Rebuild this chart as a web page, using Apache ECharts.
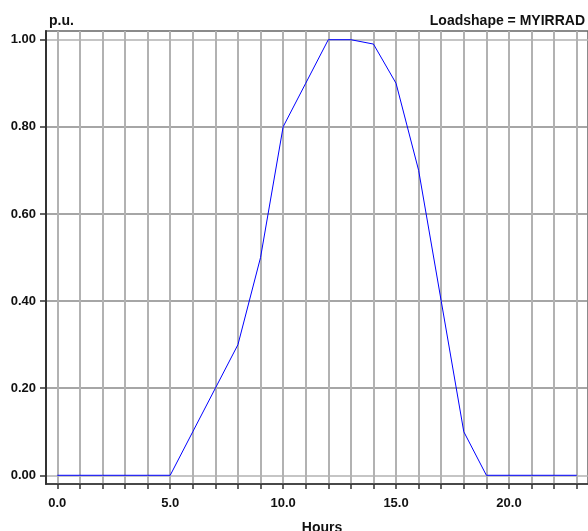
<!DOCTYPE html>
<html><head><meta charset="utf-8">
<script src="https://cdn.jsdelivr.net/npm/echarts@6/dist/echarts.min.js"></script>
<style>html,body{margin:0;padding:0;background:#fff}#c{width:588px;height:531px}</style>
</head><body><div id="c"></div>
<script>
var hours = [0,1,2,3,4,5,6,7,8,9,10,11,12,13,14,15,16,17,18,19,20,21,22,23];
var puValues = [0,0,0,0,0,0,0.1,0.2,0.3,0.5,0.8,0.9,1.0,1.0,0.99,0.9,0.7,0.4,0.1,0,0,0,0,0];
var xLabelValues = [0,5,10,15,20];
var yTickValues = [0,0.2,0.4,0.6,0.8,1.0];
var titleLeft = 'p.u.';
var titleRight = 'Loadshape = MYIRRAD';
var xName = 'Hours';

var chart = echarts.init(document.getElementById('c'));
var font = 'Liberation Sans, Arial, sans-serif';
chart.setOption({
  animation: false,
  textStyle: {fontFamily: font},
  title: [
    {text: titleLeft, left: 44, top: 9, textStyle: {fontSize: 14, fontWeight: 'bold', color: '#111', fontFamily: font}},
    {text: titleRight, right: -2, top: 9, textStyle: {fontSize: 14, fontWeight: 'bold', color: '#111', fontFamily: font}},
    {text: xName, left: 317, top: 516, textAlign: 'center', textStyle: {fontSize: 14, fontWeight: 'bold', color: '#111', fontFamily: font}}
  ],
  grid: {left: 46, right: -1, top: 31, bottom: 47, show: true, borderColor: '#666', borderWidth: 1.5, backgroundColor: 'transparent'},
  xAxis: {
    type: 'value', min: -0.5, max: 23.5,
    axisLine: {show: true, onZero: false, lineStyle: {color: '#333', width: 1.5}},
    axisTick: {show: true, length: 5, customValues: hours, lineStyle: {color: '#333', width: 1.5}},
    axisLabel: {customValues: xLabelValues, margin: 13, fontSize: 13, fontWeight: 'bold', color: '#111',
      formatter: function(v){ return v.toFixed(1); }},
    splitLine: {show: true, lineStyle: {color: '#b2b2b2', width: 2}}
  },
  yAxis: {
    type: 'value', min: -0.02, max: 1.02,
    axisLine: {show: true, onZero: false, lineStyle: {color: '#333', width: 2}},
    axisTick: {show: true, length: 6, customValues: yTickValues, lineStyle: {color: '#333', width: 1.5}},
    axisLabel: {customValues: yTickValues, margin: 10, fontSize: 13, fontWeight: 'bold', color: '#111',
      formatter: function(v){ return v.toFixed(2); }},
    splitLine: {show: true, lineStyle: {color: ['#b2b2b2','#888','#888','#888','#888','#b2b2b2'], width: 1.5}}
  },
  series: [{
    type: 'line',
    data: hours.map(function(h, i){ return [h, puValues[i]]; }),
    showSymbol: false,
    lineStyle: {color: '#0000ff', width: 1},
    itemStyle: {color: '#0000ff'}
  }]
});
</script></body></html>
